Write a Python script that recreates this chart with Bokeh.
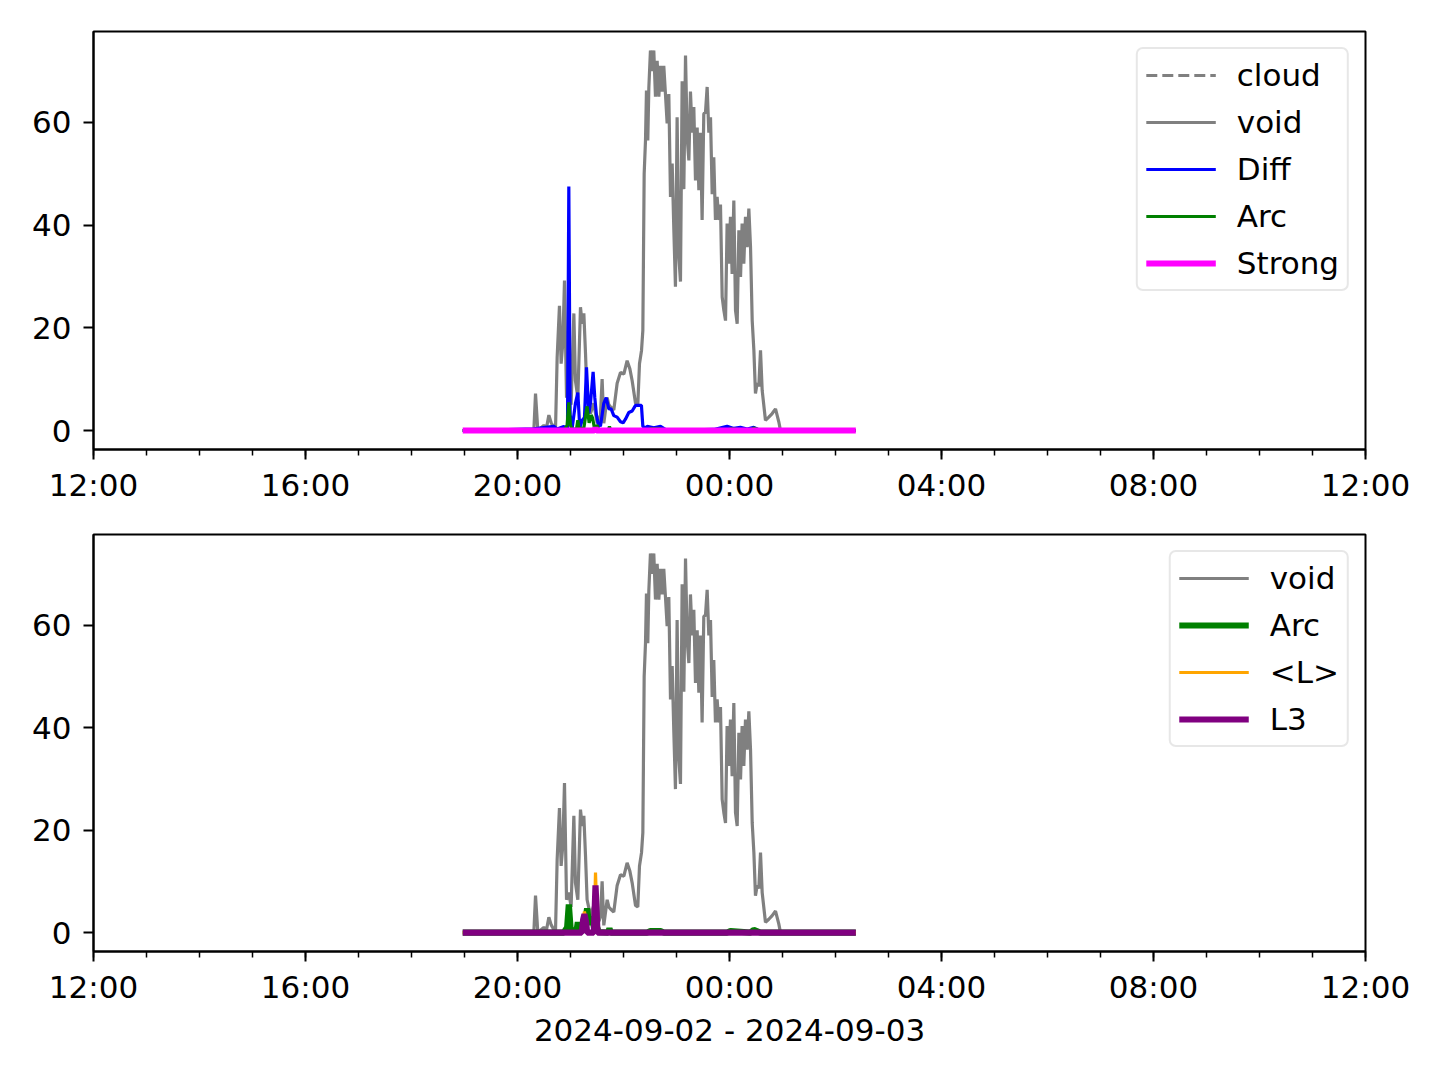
import pandas as pd
from bokeh.plotting import figure
from bokeh.layouts import column
from bokeh.models import Range1d, FixedTicker, DatetimeTickFormatter, Legend
from bokeh.embed import file_html
from bokeh.resources import INLINE

# ---------------- data (minutes after 2024-09-02 12:00) ----------------
base_time = "2024-09-02 12:00"
axis_hours = list(range(0, 25, 4))
minor_hours = list(range(0, 25, 1))
y_ticks = [0, 20, 40, 60]

void_min = [418, 494.7, 498.5, 500.4, 503.0, 509.8, 512.8, 515.5, 518.1, 523.0,
            524.9, 527.5, 529.4, 531.3, 533.2, 535.5, 538.1, 540.7, 543.8, 545.6,
            548.3, 551.3, 553.2, 555.1, 557.0, 558.8, 562.6, 566.4, 570.2, 573.9,
            575.8, 577.7, 581.5, 583.4, 585.3, 589.0, 592.8, 596.6, 600.4, 604.1,
            607.2, 609.8, 613.6, 616.2, 618.1, 620.4, 621.9, 623.4, 624.9, 626.0,
            627.5, 628.7,
            630.5, 632.4, 634.3, 636.2, 638.1, 640.0, 641.9, 643.7, 645.6, 647.5,
            649.4, 651.3, 653.2, 655.1, 657.0, 658.8, 660.7, 662.6, 664.5, 666.4,
            668.3, 670.2, 672.1, 674.0, 675.8, 677.7, 679.6, 681.5, 683.4, 685.3,
            687.1, 689.0, 690.9, 692.8, 694.7, 696.6, 698.5, 700.4, 702.2, 704.1,
            706.0, 707.9, 709.8, 711.7, 713.6, 715.5, 717.3, 719.2, 721.1, 723.0,
            724.9, 726.8, 728.7, 730.6, 732.5, 734.3, 736.2, 738.1, 740.0, 741.9,
            743.8, 745.7, 747.6, 749.4, 751.3, 753.2, 755.1, 757.0,
            760.7, 764.5, 768.3, 772.1, 775.8, 777.7, 863]
void_val = [0, 0, 0, 7.2, 0, 1, 0.5, 3, 1.5, 0,
            14.3, 24.3, 13, 17, 29.2, 6.4, 7.8, 5, 22.8, 9.7,
            6.4, 24, 20.8, 22.8, 15, 6.4, 3.3, 5.3, 1.4, 3,
            10, 1.4, 6.4, 5, 4.6, 4, 9.2, 11.3, 11, 13.6,
            12, 9.7, 5.3, 5, 13, 15.6, 19.5, 50, 56.5, 66.2,
            56.5, 66.8,
            74, 70, 74, 65, 72, 65, 71, 66, 71, 65.5,
            59.8, 65.5, 45.5, 52, 39, 28, 61, 34, 29, 68,
            47, 73, 57, 52.6, 66, 58, 63, 48.7, 59, 46.8,
            58, 41, 61.7, 61.9, 66.9, 58, 61, 46, 53.2, 41,
            45.5, 41, 44, 26, 23.4, 21.4, 40.3, 32.5, 41.6, 30.5,
            44.8, 23.4, 20.8, 39, 29.9, 40.3, 32.5, 41.6, 35.7, 43.2,
            35.7, 21.4, 15.6, 7.2, 9.2, 8.6, 15.6, 7.8,
            2, 2.6, 3.3, 4.2, 1.7, 0, 0]

cloud_min = [418, 863]
cloud_val = [0, 0]

diff_min = [418, 498.5, 521.1, 524.9, 532.4, 536.2, 536.6, 538.1, 539.6, 541.9,
            545.6, 548.3, 550.5, 553.2, 555.8, 558.1, 560.7, 562.6, 565.6, 567.5,
            569.4, 571.3, 573.9, 577.7, 580.4, 583.4, 586.0, 589.0, 592.8, 596.6,
            599.6, 602.2, 606.0, 609.8, 613.6, 617.3, 620.3, 621.9, 624.9, 626.8,
            634.3, 641.9, 645.6, 649.4, 702.2, 717.3, 724.9, 732.4, 740.0, 747.5,
            751.3, 755.1, 863]
diff_val = [0, 0.3, 0.8, 0.3, 0.8, 0.2, 0.5, 47.5, 3, 0.5,
            5.3, 7.4, 0.5, 2, 2.5, 12.3, 3.3, 5.3, 11.4, 6.4,
            3, 1.4, 0.8, 5.3, 6.4, 4.2, 4.2, 2.9, 2.6, 1.7,
            1.5, 2.2, 3.5, 3.8, 4.9, 4.9, 4.9, 0.8, 0.5, 0.8,
            0.5, 0.8, 0.4, 0, 0.2, 0.8, 0.4, 0.6, 0.3, 0.6,
            0.3, 0, 0]

arc_min = [418, 532.4, 536.2, 538.1, 540.0, 541.9, 546.8, 548.3, 549.8, 555.1,
           557.3, 558.8, 561.1, 563.4, 564.9, 567.1, 570.2, 572.0, 582.6, 584.1,
           585.6, 626.8, 630.5, 641.9, 645.6, 717.3, 721.1, 743.8, 747.5, 755.1, 863]
arc_val = [0, 0, 1, 5.5, 1, 0.2, 0.3, 2, 0.3, 0.5,
           3, 4.7, 1.5, 3, 2.5, 0.5, 1, 0.1, 0, 0.8,
           0, 0, 0.3, 0.3, 0, 0, 0.3, 0, 0.5, 0, 0]

strong_min = [418, 567.1, 568.3, 569.4, 863]
strong_val = [0, 0, 0.5, 0, 0]

lmean_min = [418, 552.8, 554.3, 555.8, 557.7, 558.8, 566.4, 567.5, 568.3, 569.4, 570.5, 863]
lmean_val = [0, 0, 2.8, 4.1, 2.2, 0, 0, 6, 11.7, 6, 0, 0]

l3_min = [418, 552.8, 554.3, 555.8, 557.7, 558.8, 566.4, 567.5, 568.3, 569.4, 570.5, 863]
l3_val = [0, 0, 2.5, 3.6, 2, 0, 0, 5, 9.2, 5, 0, 0]

x_label = "2024-09-02 - 2024-09-03"

# ---------------- helpers ----------------
t0 = pd.Timestamp(base_time)


def to_dt(mins):
    return list(t0 + pd.to_timedelta(mins, unit="m"))


def ms(h):
    return (t0 + pd.Timedelta(hours=h)).value / 1e6


FONT = "DejaVu Sans"
FS = "31px"
THIN = 3.2
THICK = 6.2
all_max = max(max(void_val), max(diff_val), max(arc_val), max(l3_val), max(lmean_val))
pad = 0.05 * all_max


def make_fig(height, top, bottom, with_label=False):
    p = figure(width=1424, height=height, x_axis_type="datetime",
               x_range=Range1d(to_dt([0])[0], to_dt([1440])[0]),
               y_range=Range1d(-pad, all_max + pad),
               output_backend="svg", toolbar_location=None,
               min_border_left=93, min_border_right=59,
               min_border_top=top, min_border_bottom=bottom)
    p.grid.visible = False
    p.outline_line_color = "black"
    p.outline_line_width = 2
    p.background_fill_color = "white"
    p.border_fill_color = "white"

    p.xaxis.ticker = FixedTicker(ticks=[ms(h) for h in axis_hours],
                                 minor_ticks=[ms(h) for h in minor_hours])
    fmt = "%H:%M"
    p.xaxis.formatter = DatetimeTickFormatter(
        microseconds=fmt, milliseconds=fmt, seconds=fmt, minsec=fmt,
        minutes=fmt, hourmin=fmt, hours=fmt, days=fmt, months=fmt, years=fmt)
    p.yaxis.ticker = FixedTicker(ticks=y_ticks, minor_ticks=[])

    for ax in (p.xaxis, p.yaxis):
        ax.axis_line_color = "black"
        ax.axis_line_width = 2
        ax.major_tick_line_color = "black"
        ax.major_tick_line_width = 2
        ax.major_tick_out = 10
        ax.major_tick_in = 0
        ax.minor_tick_line_color = "black"
        ax.minor_tick_line_width = 1.5
        ax.minor_tick_out = 6
        ax.minor_tick_in = 0
        ax.major_label_text_font = FONT
        ax.major_label_text_font_size = FS
        ax.major_label_text_color = "black"
    p.xaxis.major_label_standoff = 7
    p.yaxis.major_label_standoff = 12
    p.yaxis.minor_tick_line_color = None
    if with_label:
        p.xaxis.axis_label = x_label
        p.xaxis.axis_label_text_font = FONT
        p.xaxis.axis_label_text_font_size = FS
        p.xaxis.axis_label_text_font_style = "normal"
        p.xaxis.axis_label_text_color = "black"
        p.xaxis.axis_label_standoff = 4
    return p


def style_legend(p):
    lg = p.legend[0]
    lg.location = "top_right"
    lg.margin = 16
    lg.padding = 8
    lg.spacing = 11
    lg.glyph_width = 70
    lg.glyph_height = 36
    lg.label_height = 36
    lg.label_standoff = 21
    lg.label_text_font = FONT
    lg.label_text_font_size = FS
    lg.label_text_color = "black"
    lg.label_text_baseline = "middle"
    lg.border_line_color = "#d0d0d0"
    lg.border_line_width = 2.5
    lg.background_fill_color = "white"
    lg.background_fill_alpha = 0.8
    if "border_radius" in lg.properties():
        lg.border_radius = 7


# ---------------- top panel ----------------
p1 = make_fig(510, 31, 61)
p1.line(to_dt(cloud_min), cloud_val, color="gray", line_width=THIN, line_dash="11 5",
        legend_label="cloud")
p1.line(to_dt(void_min), void_val, color="gray", line_width=THIN, legend_label="void")
p1.line(to_dt(diff_min), diff_val, color="blue", line_width=THIN, legend_label="Diff")
p1.line(to_dt(arc_min), arc_val, color="green", line_width=THIN, legend_label="Arc")
p1.line(to_dt(strong_min), strong_val, color="magenta", line_width=THICK, legend_label="Strong")
style_legend(p1)

# ---------------- bottom panel ----------------
p2 = make_fig(556, 24, 115, with_label=True)
p2.line(to_dt(void_min), void_val, color="gray", line_width=THIN, legend_label="void")
p2.line(to_dt(arc_min), arc_val, color="green", line_width=THICK, legend_label="Arc")
p2.line(to_dt(lmean_min), lmean_val, color="orange", line_width=THIN, legend_label="<L>")
p2.line(to_dt(l3_min), l3_val, color="purple", line_width=THICK, legend_label="L3")
style_legend(p2)

layout = column(p1, p2, spacing=0)
open("out.html", "w").write(file_html(layout, INLINE))
